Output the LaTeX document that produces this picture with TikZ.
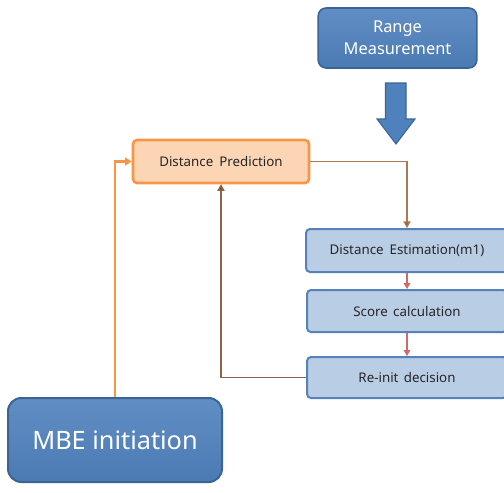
\documentclass[tikz,border=0pt]{standalone}
\usepackage{fontspec}
\setmainfont{Noto Sans}
\usetikzlibrary{arrows.meta,calc}

\definecolor{darkblue}{HTML}{4F81BD}
\definecolor{blueedge}{HTML}{3B6496}
\definecolor{paleblue}{HTML}{B9CDE5}
\definecolor{paleedge}{HTML}{5682BC}
\definecolor{paleorange}{HTML}{FCD5B5}
\definecolor{orangeedge}{HTML}{F79646}
\definecolor{brownline}{HTML}{A77A55}
\definecolor{browntip}{HTML}{B45F1E}
\definecolor{redline}{HTML}{D06A6A}
\definecolor{fbline}{HTML}{8F6446}

\tikzset{
  bluebox/.style={draw=blueedge, line width=1.2pt, top color=darkblue!90!white,
    bottom color=darkblue!95!black, text=white, align=center, inner sep=0pt},
  stagebox/.style={draw=paleedge, line width=1.5pt, fill=paleblue,
    rounded corners=3pt, text=black!85, inner sep=0pt,
    font=\fontsize{10}{12}\selectfont},
  predbox/.style={draw=orangeedge, line width=1.9pt, fill=paleorange,
    rounded corners=3pt, text=black!85, inner sep=0pt,
    font=\fontsize{10}{12}\selectfont},
  flow/.style={line width=0.8pt, -{Triangle[length=4.5pt,width=5pt]}},
}

\begin{document}
\begin{tikzpicture}[x=0.75pt, y=-0.75pt]
  \useasboundingbox (0,0) rectangle (504,493);
  \clip (0,0) rectangle (504,493);

  % source blocks
  \node[bluebox, rounded corners=6pt, minimum width=119pt, minimum height=45pt,
        font=\fontsize{12.3}{16.5}\selectfont] (range) at (397.5,38)
        {Range\\Measurement};
  \node[bluebox, rounded corners=10pt, line width=1.5pt, minimum width=160.5pt,
        minimum height=63pt, font=\fontsize{19}{22}\selectfont] (mbe) at (115,440)
        {MBE initiation};

  % prediction and estimation stages
  \node[predbox, minimum width=132pt, minimum height=32.25pt] (dp) at (221,161.5)
        {Distance\hspace{0.45em}Prediction};
  \node[stagebox, minimum width=151.5pt, minimum height=32.25pt] (de) at (407,250.5)
        {Distance\hspace{0.45em}Estimation(m1)};
  \node[stagebox, minimum width=150pt, minimum height=31.5pt] (sc) at (407,311)
        {Score\hspace{0.4em}calculation};
  \node[stagebox, minimum width=150pt, minimum height=30.75pt] (rd) at (407,377.5)
        {Re-init\hspace{0.4em}decision};

  % block arrow from the measurement into the loop
  \draw[blueedge, line width=0.8pt, fill=darkblue]
    (385.5,83) -- (406,83) -- (406,119) -- (415,119) -- (396,144)
    -- (377,119) -- (385.5,119) -- cycle;

  % connectors
  \draw[flow, draw=brownline, line width=0.9pt, -{Triangle[length=5pt,width=5.5pt,fill=browntip]}]
    (dp.east) -| (de.north);
  \draw[flow, draw=redline, -{Triangle[length=4.5pt,width=5pt,fill=redline]}]
    (de.south) -- (sc.north);
  \draw[flow, draw=redline, -{Triangle[length=4.5pt,width=5pt,fill=redline]}]
    (sc.south) -- (rd.north);
  \draw[flow, draw=fbline, line width=0.9pt, -{Triangle[length=5pt,width=5.5pt,fill=fbline!80!black]}]
    (rd.west) -| (dp.south);
  \draw[flow, draw=orangeedge, line width=2.2pt, -{Triangle[length=5pt,width=6pt]}]
    (mbe.north) |- (dp.west);
\end{tikzpicture}
\end{document}
